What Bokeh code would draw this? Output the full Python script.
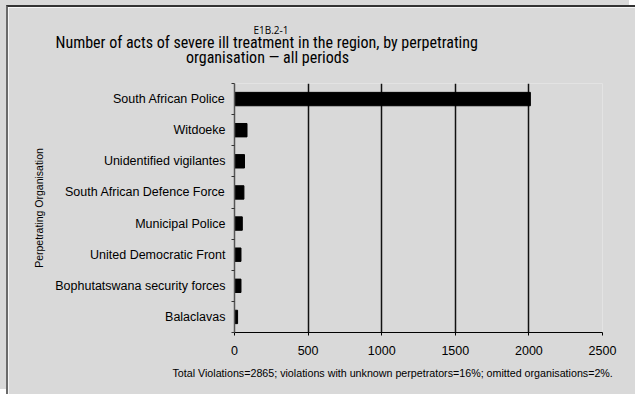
from bokeh.plotting import figure
from bokeh.models import Range1d, FixedTicker, ColumnDataSource, Title
from bokeh.embed import file_html
from bokeh.resources import INLINE

categories = ["South African Police", "Witdoeke", "Unidentified vigilantes",
              "South African Defence Force", "Municipal Police",
              "United Democratic Front", "Bophutatswana security forces", "Balaclavas"]
values = [2010, 85, 68, 64, 53, 44, 44, 21]
x_ticks = [0, 500, 1000, 1500, 2000, 2500]
chart_code = "E1B.2-1"
title_line1 = "Number of acts of severe ill treatment in the region, by perpetrating"
title_line2 = "organisation \u2014 all periods"
y_label = "Perpetrating Organisation"
footnote = "Total Violations=2865; violations with unknown perpetrators=16%; omitted organisations=2%."

BG = "#d9d9d9"
SANS = "'Liberation Sans', Arial, sans-serif"
NARROW = "'Roboto Condensed', 'Liberation Sans', sans-serif"

W, H = 629, 389          # element size incl. 2px border on left/top
ML, MR = 226, 35

n = len(categories)
ypos = [n - i - 0.5 for i in range(n)]
src = ColumnDataSource(dict(y=ypos, v=values, name=categories))

p = figure(width=W, height=H, output_backend="svg", toolbar_location=None,
           x_range=Range1d(0, x_ticks[-1]), y_range=Range1d(0, n),
           min_border_left=ML, min_border_right=MR, min_border_bottom=0,
           min_border_top=0)
p.styles = {"border-left": "2px solid #6a6a6a", "border-top": "2px solid #333333",
            "margin-left": "6px", "margin-top": "5px",
            "box-shadow": "-6px -5px 0 0 #d9d9d9", "box-sizing": "border-box"}
p.background_fill_color = BG
p.border_fill_color = BG
p.outline_line_color = None
p.title = None

p.hbar(y="y", left=0, right="v", height=0.43, source=src,
       fill_color="black", line_color="black")

# x axis
p.xaxis.ticker = FixedTicker(ticks=x_ticks)
p.xaxis.major_tick_out = 3
p.xaxis.major_tick_in = 0
p.xaxis.minor_tick_out = 0
p.xaxis.major_label_standoff = 10
p.xaxis.major_label_text_font = SANS
p.xaxis.major_label_text_font_size = "12.5px"
p.xaxis.major_label_text_color = "black"
p.xaxis.axis_line_color = "black"
p.xaxis.axis_line_width = 1.2
p.xaxis.major_tick_line_color = "black"

# y axis with labels at band centres and ticks at band edges
p.yaxis.ticker = FixedTicker(ticks=ypos, minor_ticks=list(range(n + 1)))
p.yaxis.major_label_overrides = {y: c for y, c in zip(ypos, categories)}
p.yaxis.major_tick_out = 0
p.yaxis.major_tick_in = 0
p.yaxis.minor_tick_out = 3
p.yaxis.minor_tick_in = 0
p.yaxis.minor_tick_line_color = "#333333"
p.yaxis.axis_line_color = "#555555"
p.yaxis.axis_line_width = 1.5
p.yaxis.major_label_standoff = 6
p.yaxis.major_label_text_font = SANS
p.yaxis.major_label_text_font_size = "12.5px"
p.yaxis.major_label_text_color = "black"
p.yaxis.axis_label = y_label
p.yaxis.axis_label_text_font = SANS
p.yaxis.axis_label_text_font_size = "10.5px"
p.yaxis.axis_label_text_font_style = "normal"
p.yaxis.axis_label_text_color = "black"
p.yaxis.axis_label_standoff = 7

p.ygrid.grid_line_color = None
p.xgrid.ticker = FixedTicker(ticks=x_ticks[1:])
p.xgrid.grid_line_color = "#111111"
p.xgrid.grid_line_width = 1.5


def title(text, size, font, standoff, offset=0, align="left", valign="bottom"):
    return Title(text=text, align=align, vertical_align=valign, offset=offset,
                 standoff=standoff, text_font=font, text_font_size=size,
                 text_font_style="normal", text_color="black")


# above panels, nearest the frame first
p.add_layout(title(" ", "1px", SANS, 14.15), "above")
p.add_layout(title(title_line2, "16px", NARROW, 0, offset=-48.5), "above")
p.add_layout(title(title_line1, "16px", NARROW, -12.6, offset=-179), "above")
p.add_layout(title(chart_code, "10px", "'Open Sans', 'Noto Sans', sans-serif", 0.1, offset=19), "above")
p.add_layout(title(" ", "1px", SANS, 10.95), "above")

# footnote below the x axis, then a small spacer
p.add_layout(title(footnote, "10.7px", SANS, 19.3, offset=-62, valign="top"), "below")
p.add_layout(title(" ", "1px", SANS, 2.8), "below")

open("out.html", "w").write(file_html(p, INLINE))
